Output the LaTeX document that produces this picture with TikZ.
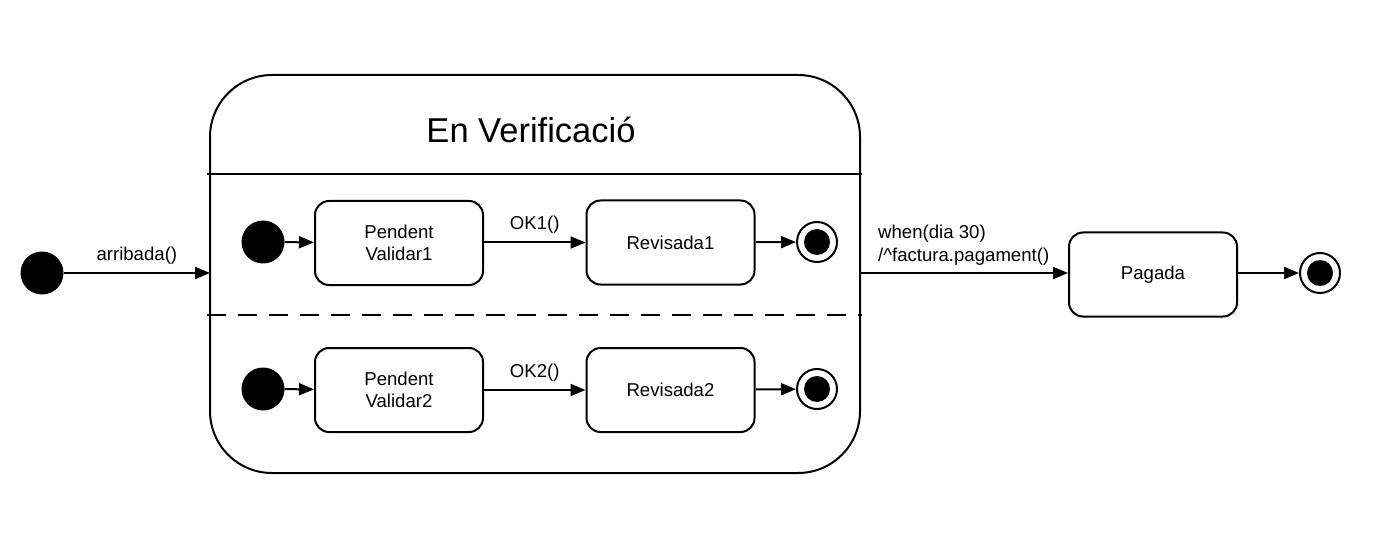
\documentclass[tikz,border=0pt]{standalone}
\usepackage{fontspec}
\setmainfont{Liberation Sans}
\usetikzlibrary{arrows.meta}
\tikzset{
  lbl/.style={font=\fontsize{18.6}{22}\selectfont, inner sep=0pt},
  statebox/.style={draw, line width=2pt, rounded corners=14pt, minimum width=168pt, minimum height=84pt, align=center, font=\fontsize{18.6}{22}\selectfont},
  initst/.style={circle, fill=black, minimum size=43pt, inner sep=0pt},
  finalst/.style={circle, draw, line width=2pt, minimum size=40pt, inner sep=0pt, path picture={\fill (path picture bounding box.center) circle (13pt);}},
  trans/.style={line width=2pt, -{Triangle[length=15pt,width=12pt]}},
}
\begin{document}
\begin{tikzpicture}[x=1pt,y=-1pt]
\useasboundingbox (0,0) rectangle (1386,545);
% composite state
\draw[line width=2pt, rounded corners=62pt] (210,75) rectangle (860,473);
\node[font=\fontsize{34.5}{40}\selectfont] (title) at (531,130) {En Verificació};
\coordinate (sepL) at (207,174);
\coordinate (sepR) at (862,174);
\draw[line width=2pt] (sepL) -- (sepR);
\coordinate (dashL) at (207,315);
\coordinate (dashR) at (862,315);
\draw[line width=2pt, dash pattern=on 19pt off 12pt] (dashL) -- (dashR);
\coordinate (compL) at (210,273);
\coordinate (compR) at (860,273);
% outer initial
\node[initst] (init) at (42,273) {};
\draw[trans] (init) -- node[lbl, above=8pt] {arribada()} (compL);
% region 1
\node[initst] (i1) at (263,242) {};
\node[statebox] (pv1) at (399,243) {Pendent\\Validar1};
\node[statebox] (r1) at (670.5,242.5) {Revisada1};
\node[finalst] (f1) at (817,242) {};
\draw[trans] (i1) -- (pv1);
\draw[trans] (pv1.east |- r1) -- node[lbl, above=8pt] {OK1()} (r1);
\draw[trans] (r1) -- (f1);
% region 2
\node[initst] (i2) at (263,389) {};
\node[statebox] (pv2) at (399,390) {Pendent\\Validar2};
\node[statebox] (r2) at (670.5,390) {Revisada2};
\node[finalst] (f2) at (817,389) {};
\draw[trans] (i2) -- (pv2);
\draw[trans] (pv2.east |- r2) -- node[lbl, above=8pt] {OK2()} (r2);
\draw[trans] (r2) -- (f2);
% outgoing
\node[statebox] (pag) at (1153,274.5) {Pagada};
\draw[trans] (compR) -- (pag.west |- compR);
\node[lbl, align=left, anchor=south west, font=\fontsize{18.6}{23}\selectfont] (guard) at (878,266) {when(dia 30)\\/\^{}factura.pagament()};
\node[finalst] (fout) at (1320,273) {};
\draw[trans] (pag.east |- fout) -- (fout);
\end{tikzpicture}
\end{document}
